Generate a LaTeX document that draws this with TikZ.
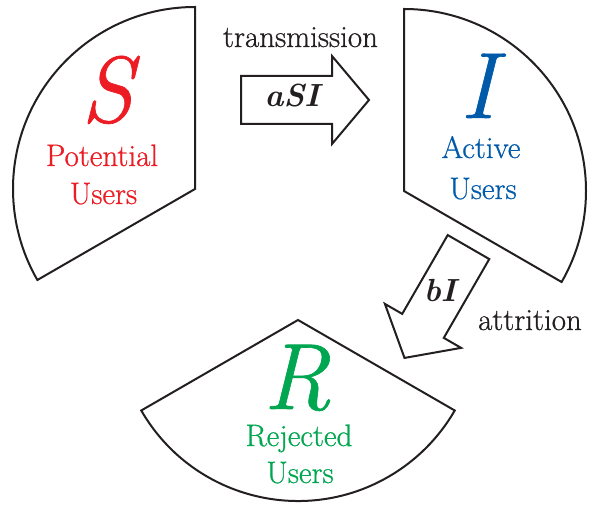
\documentclass[tikz,border=0pt]{standalone}
\usepackage{fontspec}
\newfontfamily\labfont{Latin Modern Roman}[FakeBold=0.7]
\definecolor{sred}{RGB}{237,28,36}
\definecolor{iblue}{RGB}{0,90,170}
\definecolor{rgreen}{RGB}{0,166,80}
\definecolor{ink}{RGB}{35,31,32}
\tikzset{
  sector/.style={draw=ink, line width=2pt, line join=miter, fill=white},
  blockarrow/.style={draw=ink, line width=2pt, line join=miter, fill=white},
  bigletter/.style={anchor=base, inner sep=0pt, font=\fontsize{94}{94}\selectfont\labfont\itshape},
  label/.style={anchor=base, inner sep=0pt, font=\fontsize{31}{31}\selectfont\labfont},
  rate/.style={anchor=base, inner sep=0pt, font=\fontsize{32}{32}\selectfont\bfseries\itshape, text=ink},
}
\begin{document}
\begin{tikzpicture}[x=1pt,y=1pt]
\useasboundingbox (0,0) rectangle (589,504);
% sectors
\draw[sector] (195,315) -- ++(90:182) arc[start angle=90, end angle=210, radius=182] -- cycle;
\draw[sector] (404,313) -- ++(90:182) arc[start angle=90, end angle=-30, radius=182] -- cycle;
\draw[sector] (298,184) -- ++(210:181) arc[start angle=210, end angle=330, radius=181] -- cycle;
% block arrows
\begin{scope}[shift={(305,404)}]
\draw[blockarrow] (-64,-24) -- (-64,24) -- (27,24) -- (27,44) -- (64,0) -- (27,-44) -- (27,-24) -- cycle;
\end{scope}
\begin{scope}[shift={(436.5,201.5)}, rotate=240]
\draw[blockarrow] (-64,-24) -- (-64,24) -- (27,24) -- (27,44) -- (64,0) -- (27,-44) -- (27,-24) -- cycle;
\end{scope}
% S
\node[bigletter, text=sred] (sS) at (107,382) {S};
\node[label, text=sred] (sPot) at (102,338) {Potential};
\node[label, text=sred] (sUse) at (103.5,300) {Users};
% I
\node[bigletter, text=iblue] (iI) at (478,386) {I};
\node[label, text=iblue] (iAct) at (481,346) {Active};
\node[label, text=iblue] (iUse) at (483,305) {Users};
% R
\node[bigletter, text=rgreen] (rR) at (297,95) {R};
\node[label, text=rgreen] (rRej) at (299,58) {Rejected};
\node[label, text=rgreen] (rUse) at (300,21) {Users};
% flows
\node[label, text=ink] (trans) at (300.5,457) {transmission};
\node[rate] (asi) at (292,397) {aSI};
\node[label, text=ink] (attr) at (530,174) {attrition};
\node[rate] (bi) at (440,203) {bI};
\end{tikzpicture}
\end{document}
